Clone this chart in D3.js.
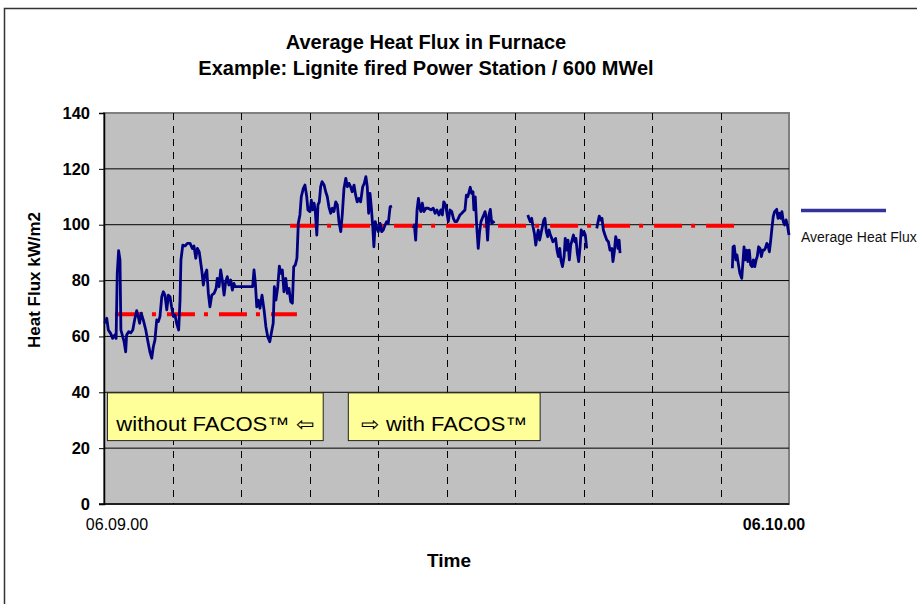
<!DOCTYPE html>
<html><head><meta charset="utf-8">
<script src="https://cdn.jsdelivr.net/npm/d3@7/dist/d3.min.js"></script>
<style>
html,body{margin:0;padding:0;background:#fff;}
svg text{font-family:"Liberation Sans",Arial,sans-serif;}
</style></head>
<body><svg id="chart" width="917" height="604"></svg>
<script>
// ---- data ----
const titleLines = ["Average Heat Flux in Furnace", "Example: Lignite fired Power Station / 600 MWel"];
const yTicks = [0, 20, 40, 60, 80, 100, 120, 140];
const xLabels = [{day: 0, text: "06.09.00", bold: false}, {day: 30, text: "06.10.00", bold: true}];
const gridDays = [3, 6, 9, 12, 15, 18, 21, 24, 27];
const seriesName = "Average Heat Flux";
// time in days after 06.09.00 ; null = no data
const days = [
 0.03,0.12,0.19,0.29,0.38,0.47,0.53,0.58,0.64,0.70,0.74,0.82,0.88,0.95,0.99,1.08,1.17,1.26,1.34,1.43,
 1.50,1.56,1.63,1.72,1.83,1.91,2.01,2.09,2.16,2.23,2.31,2.38,2.45,2.53,2.60,2.67,2.75,2.82,2.89,2.96,
 3.04,3.11,3.18,3.27,3.33,3.37,3.45,3.55,3.65,3.77,3.87,3.94,4.02,4.09,4.17,4.28,4.35,4.42,4.50,4.57,
 4.64,4.72,4.82,4.91,4.96,5.04,5.11,5.18,5.26,5.33,5.40,5.47,5.55,5.62,5.69,5.74,6.51,6.57,6.63,6.69,
 6.76,6.83,6.92,7.01,7.09,7.17,7.26,7.34,7.41,7.46,7.53,7.61,7.68,7.74,7.81,7.88,7.96,8.03,8.10,8.18,
 8.25,8.31,8.38,8.45,8.51,8.58,8.64,8.73,8.80,8.88,8.93,9.02,9.08,9.14,9.20,9.25,9.32,9.37,9.43,9.49,
 9.55,9.64,9.71,9.78,9.85,9.93,10.00,10.07,10.15,10.22,10.29,10.37,10.44,10.51,10.59,10.66,10.73,10.80,10.87,10.95,
 11.02,11.09,11.17,11.24,11.33,11.40,11.47,11.53,11.59,11.65,11.71,11.77,11.82,11.88,11.94,12.01,12.09,12.16,12.23,12.31,
 12.38,12.45,12.53,12.61,13.0,
 13.55,13.59,13.65,13.71,13.77,13.83,13.88,13.94,14.01,14.10,14.20,14.32,14.42,14.50,14.58,14.67,14.75,14.82,14.88,14.96,
 15.02,15.08,15.15,15.23,15.30,15.37,15.45,15.52,15.59,15.67,15.74,15.81,15.87,15.93,15.99,16.04,16.10,16.16,16.20,16.26,
 16.32,16.39,16.45,16.51,16.57,16.63,16.69,16.74,16.80,16.86,16.92,16.98,17.04,17.09,17.8,
 18.56,18.61,18.67,18.73,18.79,18.85,18.91,18.96,19.02,19.08,19.14,19.20,19.26,19.31,19.37,19.43,19.49,19.55,19.61,19.66,
 19.72,19.78,19.84,19.90,19.96,20.01,20.08,20.15,20.20,20.26,20.32,20.38,20.44,20.50,20.56,20.62,20.67,20.73,20.79,20.85,
 20.90,20.97,21.02,21.08,21.14,21.3,
 21.58,21.64,21.69,21.75,21.81,21.87,21.94,22.02,22.09,22.16,22.24,22.29,22.35,22.41,22.47,22.51,22.56,22.60,25.0,
 27.52,27.55,27.60,27.67,27.72,27.80,27.85,27.93,27.99,28.03,28.09,28.15,28.20,28.26,28.32,28.38,28.44,28.50,28.56,28.61,
 28.67,28.73,28.79,28.85,28.91,28.96,29.03,29.08,29.14,29.20,29.26,29.31,29.37,29.46,29.52,29.58,29.64,29.69,29.75,29.81,
 29.87,29.93,30.00
];
const heatFlux = [
 64.7,66.5,62.3,61.1,59.3,60.5,59.3,82.6,90.7,87.4,62.3,59.9,58.1,54.5,60.5,61.7,61.3,62.3,65.9,69.2,
 67.1,64.7,68.3,65.9,62.3,58.7,54.5,52.2,56.3,58.7,65.9,65.3,67.1,74.2,76.0,74.8,69.5,74.8,74.2,70.6,
 67.1,67.7,64.7,62.3,73.0,87.4,92.7,92.4,93.3,93.3,91.5,92.4,88.0,91.5,90.3,83.8,78.4,82.0,83.8,75.4,
 70.6,74.8,75.4,77.2,80.8,77.8,83.8,80.2,74.8,79.6,81.4,78.4,80.2,76.6,79.0,77.8,77.8,83.8,79.0,70.6,
 73.0,70.1,74.8,69.5,63.5,59.9,58.1,61.7,64.7,77.8,73.0,77.8,85.2,82.6,83.8,76.0,80.8,75.4,77.2,72.4,
 71.9,85.0,85.6,88.0,100.5,103.5,110.0,113.0,114.2,110.0,105.3,104.7,108.8,105.3,107.7,105.3,96.3,107.1,108.2,113.6,
 115.4,114.2,111.8,110.0,106.4,104.1,105.9,104.7,108.2,107.1,101.1,97.5,104.1,113.0,116.6,113.6,114.8,113.6,111.8,114.2,
 110.6,108.2,109.4,108.2,113.6,114.8,117.2,113.6,104.1,111.2,105.9,99.3,92.1,101.1,99.3,97.5,100.5,97.5,98.1,99.9,
 101.1,100.5,106.4,106.7,null,
 98.7,99.9,94.5,105.3,109.4,105.9,104.7,107.7,104.7,105.9,105.9,105.3,105.9,104.1,105.3,103.5,105.3,103.5,108.2,107.1,
 104.1,101.1,105.3,104.7,102.3,101.1,101.1,102.3,103.5,104.1,104.7,105.3,110.6,110.0,111.8,113.4,111.2,111.8,105.3,110.0,
 99.9,91.5,97.5,101.1,102.3,103.5,104.7,102.3,94.5,103.5,105.5,100.5,101.1,100.5,null,
 103.5,102.3,101.1,102.3,99.3,96.9,92.7,95.7,98.1,94.5,96.9,99.3,101.7,102.3,97.5,95.7,98.1,96.3,95.1,93.9,
 94.5,95.1,90.9,88.6,91.5,87.4,85.0,88.6,95.1,90.9,94.5,87.4,92.7,94.5,96.3,93.9,95.1,89.8,86.8,92.1,
 98.1,96.3,97.5,96.3,91.5,null,
 98.7,101.1,103.1,101.7,102.3,98.1,96.3,94.5,93.9,90.9,91.5,86.8,90.3,95.7,93.9,91.5,94.5,89.8,null,
 84.4,92.1,92.4,87.4,89.2,85.0,82.6,80.8,87.4,92.1,87.4,90.9,86.8,90.9,85.6,85.0,87.4,85.0,87.4,88.6,
 92.1,91.5,88.6,90.9,90.9,91.5,93.3,92.7,90.3,94.5,99.3,102.9,104.7,105.5,102.3,104.1,102.3,104.7,101.1,99.9,
 101.7,99.9,96.3
];
// period averages (red dash-dot)
const avgStart = [0.48, 8.15];
const avgEnd = [8.45, 27.81];
const avgValue = [67.9, 99.6];
const notes = [{text: "without FACOS\u2122 \u21E6", from: 0.15, to: 9.6}, {text: "\u21E8 with FACOS\u2122", from: 10.7, to: 19.1}];
const noteRange = [22.7, 39.8];

// ---- drawing ----
const svg = d3.select("#chart");
const x = d3.scaleLinear().domain([0, 30]).range([104, 789]);
const y = d3.scaleLinear().domain([0, 140]).range([504, 113]);

// outer chart border
svg.append("rect").attr("x", 4.5).attr("y", 8.5).attr("width", 1000).attr("height", 1000)
  .attr("fill", "#fff").attr("stroke", "#333").attr("stroke-width", 1.5);

// plot area
svg.append("rect").attr("x", x(0)).attr("y", y(140)).attr("width", x(30) - x(0)).attr("height", y(0) - y(140))
  .attr("fill", "#C0C0C0").attr("stroke", "#808080").attr("stroke-width", 2);

// horizontal gridlines
svg.append("g").selectAll("line").data(yTicks.filter(v => v > 0 && v < 140)).join("line")
  .attr("x1", x(0)).attr("x2", x(30)).attr("y1", d => y(d)).attr("y2", d => y(d))
  .attr("stroke", "#000").attr("stroke-width", 1);

// vertical dashed gridlines
svg.append("g").selectAll("line").data(gridDays).join("line")
  .attr("x1", d => Math.round(x(d)) + 0.5).attr("x2", d => Math.round(x(d)) + 0.5)
  .attr("y1", y(140)).attr("y2", y(0))
  .attr("stroke", "#000").attr("stroke-width", 1).attr("stroke-dasharray", "7,6");

// y axis
const yAxis = svg.append("g").attr("transform", `translate(${x(0)},0)`)
  .call(d3.axisLeft(y).tickValues(yTicks).tickSize(5).tickPadding(9).tickFormat(d3.format("d")));
yAxis.select(".domain").attr("stroke", "#000").attr("stroke-width", 1.5);
yAxis.selectAll(".tick line").attr("stroke", "#000");
yAxis.selectAll(".tick text").attr("font-size", 16.5).attr("font-weight", "bold")
  .attr("font-family", "Liberation Sans, Arial, sans-serif").attr("fill", "#000");

// bottom axis line
svg.append("line").attr("x1", x(0) - 5).attr("x2", x(30)).attr("y1", y(0)).attr("y2", y(0))
  .attr("stroke", "#000").attr("stroke-width", 1.5);

// annotation boxes
const noteWidths = [198, 166];
const ng = svg.append("g");
notes.forEach((n, i) => {
  ng.append("rect").attr("x", x(n.from)).attr("y", y(noteRange[1])).attr("width", x(n.to) - x(n.from))
    .attr("height", y(noteRange[0]) - y(noteRange[1])).attr("fill", "#FFFF99").attr("stroke", "#222").attr("stroke-width", 1);
  ng.append("text").attr("x", (x(n.from) + x(n.to)) / 2).attr("y", y(noteRange[0]) - 9.5)
    .attr("text-anchor", "middle").attr("font-size", 20).attr("fill", "#000")
    .attr("textLength", noteWidths[i]).attr("lengthAdjust", "spacingAndGlyphs").text(n.text);
});

// average lines
svg.append("g").selectAll("line").data(avgValue).join("line")
  .attr("x1", (d, i) => x(avgStart[i])).attr("x2", (d, i) => x(avgEnd[i]))
  .attr("y1", d => y(d)).attr("y2", d => y(d))
  .attr("stroke", "#FF0000").attr("stroke-width", 4).attr("stroke-dasharray", "28,9,4,11");

// heat flux line
const pts = days.map((d, i) => [d, heatFlux[i]]);
svg.append("path").datum(pts)
  .attr("d", d3.line().defined(d => d[1] != null).x(d => x(d[0])).y(d => y(d[1])))
  .attr("fill", "none").attr("stroke", "#000080").attr("stroke-width", 2.8).attr("stroke-linejoin", "round");

// x labels
svg.append("g").selectAll("text").data(xLabels).join("text")
  .attr("x", d => x(d.day) + (d.bold ? -15 : 13)).attr("y", 530)
  .attr("text-anchor", "middle").attr("font-size", 16).attr("font-weight", d => d.bold ? "bold" : "normal")
  .attr("fill", "#000").text(d => d.text);

// titles
svg.append("g").selectAll("text").data(titleLines).join("text")
  .attr("x", 426).attr("y", (d, i) => 49 + i * 26).attr("text-anchor", "middle")
  .attr("font-size", 20).attr("font-weight", "bold").attr("fill", "#000").text(d => d);

svg.append("text").attr("x", 449).attr("y", 567).attr("text-anchor", "middle")
  .attr("font-size", 19).attr("font-weight", "bold").text("Time");

svg.append("text").attr("transform", "translate(40,280) rotate(-90)").attr("text-anchor", "middle")
  .attr("font-size", 17).attr("font-weight", "bold").text("Heat Flux kW/m2");

// legend
svg.append("line").attr("x1", 801).attr("x2", 886).attr("y1", 210.5).attr("y2", 210.5)
  .attr("stroke", "#333399").attr("stroke-width", 3.5);
svg.append("text").attr("x", 801).attr("y", 242).attr("font-size", 14).attr("fill", "#111").text(seriesName);
</script></body></html>
